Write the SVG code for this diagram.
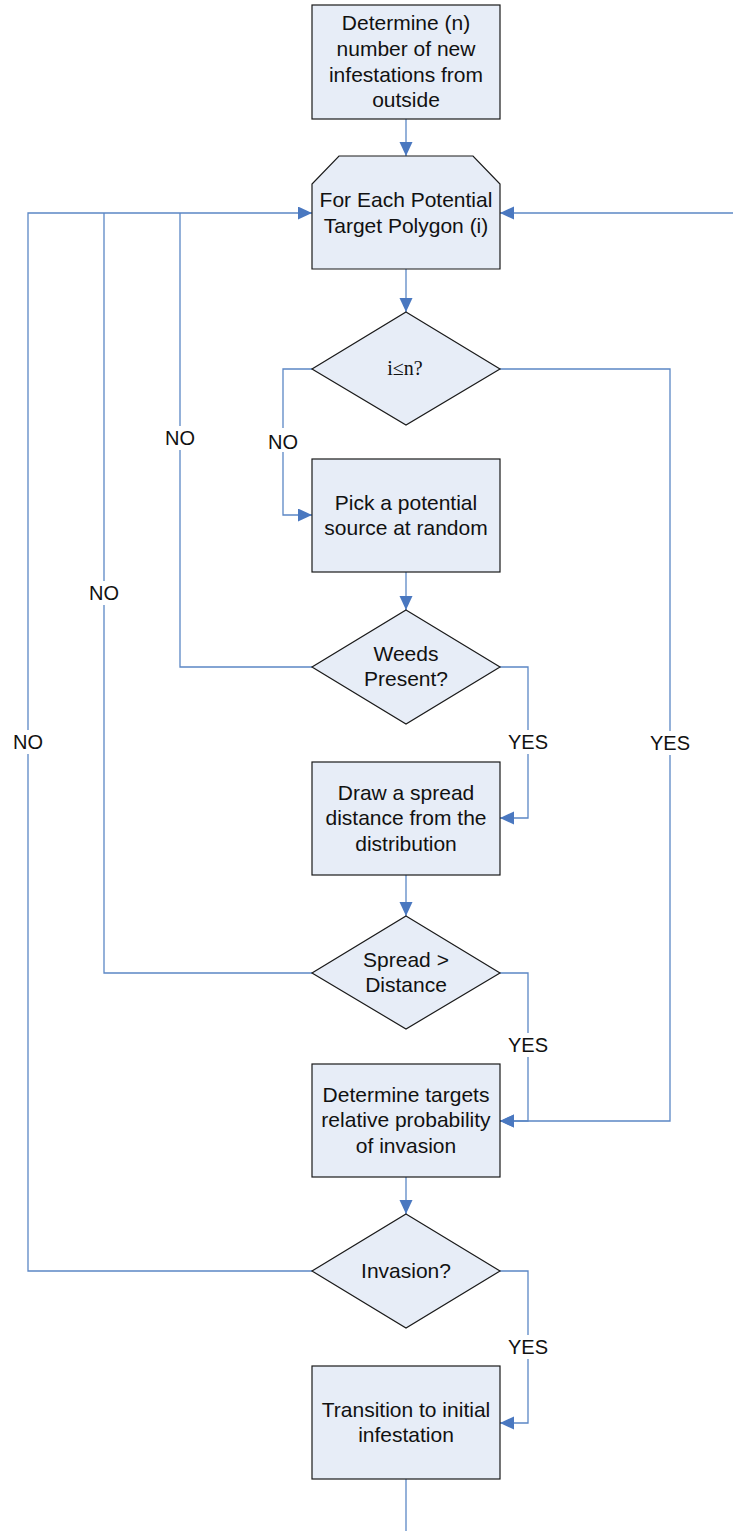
<svg xmlns="http://www.w3.org/2000/svg" width="733" height="1531" viewBox="0 0 733 1531">
<style>
.node{fill:#e7edf7;stroke:#1a1a1a;stroke-width:1.2}
.t{font-family:"Liberation Sans",Arial,sans-serif;font-size:21px;fill:#111;text-anchor:middle}
.ts{font-family:"Liberation Serif","Times New Roman",serif;font-size:20px;fill:#111;text-anchor:middle}
.c{fill:none;stroke:#5b87c5;stroke-width:1.3}
.lb{font-family:"Liberation Sans",Arial,sans-serif;font-size:20px;fill:#111;text-anchor:middle}
.bg{fill:#fff}
</style>
<defs>
<marker id="ah" markerUnits="userSpaceOnUse" markerWidth="15" markerHeight="14" refX="14" refY="6.5" orient="auto">
<path d="M0,0 L14,6.5 L0,13 z" fill="#4a78c0"/>
</marker>
</defs>
<g id="connectors">
<path class="c" d="M406,119 V156" marker-end="url(#ah)"/>
<path class="c" d="M406,269 V312" marker-end="url(#ah)"/>
<path class="c" d="M312,369 H283 V515 H312" marker-end="url(#ah)"/>
<path class="c" d="M500,369 H670 V1121 H500" marker-end="url(#ah)"/>
<path class="c" d="M406,572 V610" marker-end="url(#ah)"/>
<path class="c" d="M312,667 H180 V213"/>
<path class="c" d="M500,667 H528 V818 H500" marker-end="url(#ah)"/>
<path class="c" d="M406,875 V916" marker-end="url(#ah)"/>
<path class="c" d="M312,973 H104 V213"/>
<path class="c" d="M500,973 H528 V1121 H500" marker-end="url(#ah)"/>
<path class="c" d="M406,1177 V1214" marker-end="url(#ah)"/>
<path class="c" d="M312,1271 H28 V213 H312" marker-end="url(#ah)"/>
<path class="c" d="M500,1271 H528 V1423 H500" marker-end="url(#ah)"/>
<path class="c" d="M406,1479 V1531"/>
<path class="c" d="M733,213 H500" marker-end="url(#ah)"/>
</g>
<g id="labels">
<rect class="bg" x="266" y="428" width="34" height="24"/><text class="lb" x="283" y="449">NO</text>
<rect class="bg" x="163" y="426" width="34" height="24"/><text class="lb" x="180" y="445">NO</text>
<rect class="bg" x="87" y="581" width="34" height="24"/><text class="lb" x="104" y="600">NO</text>
<rect class="bg" x="11" y="730" width="34" height="24"/><text class="lb" x="28" y="749">NO</text>
<rect class="bg" x="648" y="731" width="44" height="24"/><text class="lb" x="670" y="750">YES</text>
<rect class="bg" x="506" y="730" width="44" height="24"/><text class="lb" x="528" y="749">YES</text>
<rect class="bg" x="506" y="1033" width="44" height="24"/><text class="lb" x="528" y="1052">YES</text>
<rect class="bg" x="506" y="1335" width="44" height="24"/><text class="lb" x="528" y="1354">YES</text>
</g>
<g id="n1">
<rect class="node" x="312" y="5" width="188" height="114"/>
<text class="t" x="406" y="30">Determine (n)</text>
<text class="t" x="406" y="56">number of new</text>
<text class="t" x="406" y="82">infestations from</text>
<text class="t" x="406" y="107">outside</text>
</g>
<g id="n2">
<polygon class="node" points="339,156 473,156 500,184 500,269 312,269 312,184"/>
<text class="t" x="406" y="207">For Each Potential</text>
<text class="t" x="406" y="233">Target Polygon (i)</text>
</g>
<g id="n3">
<polygon class="node" points="406,312 500,369 406,425 312,369"/>
<text class="ts" x="405" y="375">i≤n?</text>
</g>
<g id="n4">
<rect class="node" x="312" y="459" width="188" height="113"/>
<text class="t" x="406" y="510">Pick a potential</text>
<text class="t" x="406" y="535">source at random</text>
</g>
<g id="n5">
<polygon class="node" points="406,610 500,667 406,724 312,667"/>
<text class="t" x="406" y="661">Weeds</text>
<text class="t" x="406" y="686">Present?</text>
</g>
<g id="n6">
<rect class="node" x="312" y="762" width="188" height="113"/>
<text class="t" x="406" y="800">Draw a spread</text>
<text class="t" x="406" y="825">distance from the</text>
<text class="t" x="406" y="851">distribution</text>
</g>
<g id="n7">
<polygon class="node" points="406,916 500,973 406,1029 312,973"/>
<text class="t" x="406" y="967">Spread &gt;</text>
<text class="t" x="406" y="992">Distance</text>
</g>
<g id="n8">
<rect class="node" x="312" y="1064" width="188" height="113"/>
<text class="t" x="406" y="1102">Determine targets</text>
<text class="t" x="406" y="1127">relative probability</text>
<text class="t" x="406" y="1153">of invasion</text>
</g>
<g id="n9">
<polygon class="node" points="406,1214 500,1271 406,1328 312,1271"/>
<text class="t" x="406" y="1278">Invasion?</text>
</g>
<g id="n10">
<rect class="node" x="312" y="1366" width="188" height="113"/>
<text class="t" x="406" y="1417">Transition to initial</text>
<text class="t" x="406" y="1442">infestation</text>
</g>
</svg>
